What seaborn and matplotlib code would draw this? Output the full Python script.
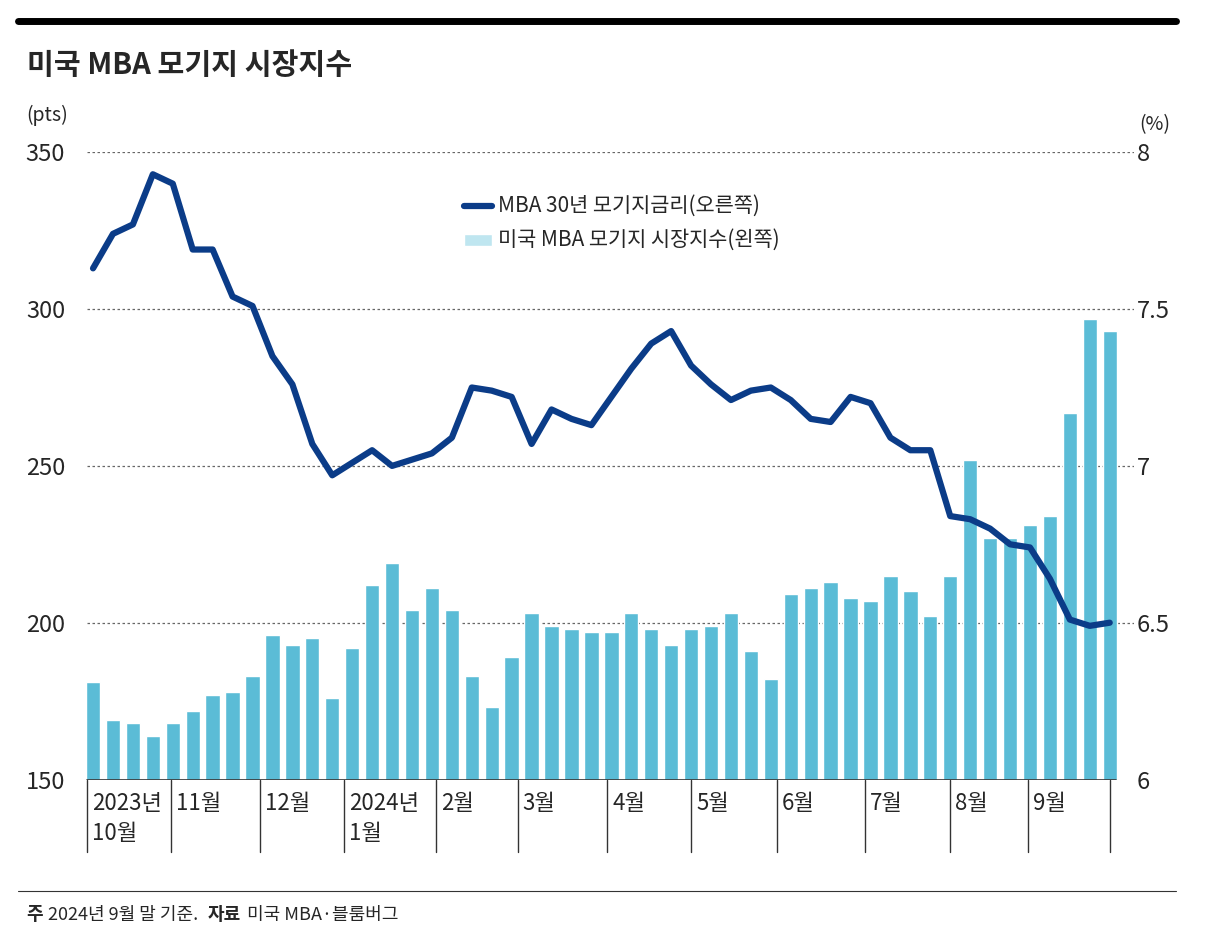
import numpy as np
import pandas as pd
import matplotlib.pyplot as plt
import seaborn as sns

index_vals = [181, 169, 168, 164, 168, 172, 177, 178, 183, 196, 193, 195, 176,
              192, 212, 219, 204, 211, 204, 183, 173, 189, 203, 199, 198, 197,
              197, 203, 198, 193, 198, 199, 203, 191, 182, 209, 211, 213, 208,
              207, 215, 210, 202, 215, 252, 227, 227, 231, 234, 267, 297, 293]
rate_vals = [7.63, 7.74, 7.77, 7.93, 7.90, 7.69, 7.69, 7.54, 7.51, 7.35, 7.26,
             7.07, 6.97, 7.01, 7.05, 7.00, 7.02, 7.04, 7.09, 7.25, 7.24, 7.22,
             7.07, 7.18, 7.15, 7.13, 7.22, 7.31, 7.39, 7.43, 7.32, 7.26, 7.21,
             7.24, 7.25, 7.21, 7.15, 7.14, 7.22, 7.20, 7.09, 7.05, 7.05, 6.84,
             6.83, 6.80, 6.75, 6.74, 6.64, 6.51, 6.49, 6.50]
month_labels = ['2023년\n10월', '11월', '12월', '2024년\n1월', '2월', '3월', '4월',
                '5월', '6월', '7월', '8월', '9월']
month_starts = [-0.3, 3.9, 8.4, 12.6, 17.2, 21.3, 25.8, 30.0, 34.3, 38.7, 43.0, 46.9, 51.0]

sns.set_style('white')
plt.rcParams['font.family'] = ['Noto Sans CJK KR', 'DejaVu Sans']

df = pd.DataFrame({'week': np.arange(len(index_vals)), 'idx': index_vals, 'rate': rate_vals})
bar_c = '#5bbcd6'
line_c = '#0b3c88'

fig = plt.figure(figsize=(12.06, 9.46), dpi=100)
ax = fig.add_axes([0.054, 0.176, 0.886, 0.663])
ax.bar(df.week, df.idx - 150, bottom=150, width=0.72, color=bar_c, zorder=2)
ax.set_ylim(150, 350)
ax.set_xlim(-1.4, 52.2)
ax.set_yticks([150, 200, 250, 300, 350])
for y in [200, 250, 300, 350]:
    ax.plot([-0.3, 52.2], [y, y], color='#666666', ls=(0, (2, 2)), lw=0.9, zorder=1)
for s in ax.spines.values():
    s.set_visible(False)
ax.tick_params(axis='y', length=0, labelsize=17, pad=0)
ax.set_xticks([])

ax2 = ax.twinx()
sns.lineplot(data=df, x='week', y='rate', ax=ax2, color=line_c, lw=4.5, zorder=3)
ax2.set_ylim(6, 8)
ax2.set_yticks([6, 6.5, 7, 7.5, 8])
ax2.set_yticklabels(['6', '6.5', '7', '7.5', '8'])
ax2.set_ylabel('')
ax2.set_xlabel('')
for s in ax2.spines.values():
    s.set_visible(False)
ax2.tick_params(axis='y', length=0, labelsize=17, pad=2)
ax2.set_xticks([])

# month axis
ax.plot([-0.3, 51.3], [150, 150], color='#333333', lw=1.2, zorder=4)
for m in month_starts:
    ax.plot([m, m], [150, 127], color='#333333', lw=1, clip_on=False)
for m, lab in zip(month_starts[:-1], month_labels):
    ax.text(m + 0.25, 146, lab, ha='left', va='top', fontsize=16, linespacing=1.4)

# legend
ax.plot([18.6, 20.0], [333, 333], color=line_c, lw=4.5)
ax.text(20.3, 333, 'MBA 30년 모기지금리(오른쪽)', va='center', fontsize=15)
ax.bar([19.3], [4], bottom=320, width=1.4, color='#bfe6f0')
ax.text(20.3, 322, '미국 MBA 모기지 시장지수(왼쪽)', va='center', fontsize=15)

fig.text(0.022, 0.872, '(pts)', fontsize=14)
fig.text(0.945, 0.862, '(%)', fontsize=14)
fig.text(0.022, 0.922, '미국 MBA 모기지 시장지수', fontsize=21, fontweight='bold')
fig.add_artist(plt.Line2D([0.015, 0.975], [0.978, 0.978], color='black', lw=5))
fig.add_artist(plt.Line2D([0.015, 0.975], [0.058, 0.058], color='#333333', lw=0.8))
fig.text(0.022, 0.028, '주', fontsize=13, fontweight='bold')
fig.text(0.04, 0.028, '2024년 9월 말 기준.', fontsize=13)
fig.text(0.172, 0.028, '자료', fontsize=13, fontweight='bold')
fig.text(0.205, 0.028, '미국 MBA·블룸버그', fontsize=13)

fig.savefig('out.png', dpi=100)
